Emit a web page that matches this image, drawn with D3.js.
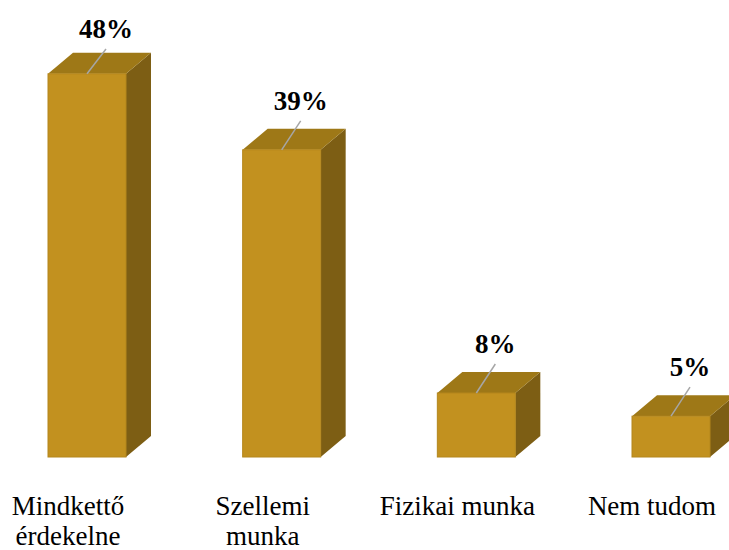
<!DOCTYPE html>
<html>
<head>
<meta charset="utf-8">
<script src="https://cdn.jsdelivr.net/npm/d3@7"></script>
</head>
<body style="margin:0">
<div id="chart"></div>
<script>
// values
var categories = ['Mindkettő érdekelne', 'Szellemi munka', 'Fizikai munka', 'Nem tudom'];
var values = [47.9, 38.4, 8.0, 5.1];
var valueLabels = ['48%', '39%', '8%', '5%'];
// how each category label wraps
var categoryLines = [['Mindkettő', 'érdekelne'], ['Szellemi', 'munka'], ['Fizikai munka'], ['Nem tudom']];

var width = 729, height = 550;
var baseY = 457;
var barW = 78, depthX = 25, depthY = 21;
var fontFam = '"Liberation Serif", monospace';

var svg = d3.select('#chart').append('svg')
  .attr('width', width)
  .attr('height', height)
  .attr('font-family', 'Liberation Serif')
  .style('font-family', 'Liberation Serif');

var x = d3.scalePoint()
  .domain(categories)
  .range([68, 652]);

var y = d3.scaleLinear()
  .domain([0, 48])
  .range([baseY, 73]);

// text layer first, bar layer inserted underneath
var barLayer = svg.append('g');
var textLayer = svg.append('g');

// bars sit a little right of the label centre (3D offset)
function left(d) { return x(d) - 20; }
function labelY(i) { return Math.max(y(values[i]) - 40, 38); }
function labelX(d) { return left(d) + 58; }

// category labels, one text per line
categories.forEach(function (c, i) {
  categoryLines[i].forEach(function (s, j) {
    textLayer.append('text')
      .attr('x', x(c))
      .attr('y', 515 + j * 30)
      .attr('text-anchor', 'middle')
      .style('font-family', fontFam)
      .attr('font-size', 27)
      .attr('fill', '#000')
      .text(s);
  });
});

textLayer.selectAll('text.val')
  .data(categories)
  .enter()
  .append('text')
  .attr('class', 'val')
  .attr('x', function (d) { return labelX(d); })
  .attr('y', function (d, i) { return labelY(i); })
  .attr('text-anchor', 'middle')
  .style('font-family', fontFam)
  .style('font-weight', 'bold')
  .attr('font-size', 27)
  .attr('fill', '#000')
  .text(function (d, i) { return valueLabels[i]; });

// touch the font so it is resolved before the bars go in
getComputedStyle(textLayer.select('text').node()).fontFamily;
document.fonts.check('27px "Liberation Serif"');

var bars = barLayer.selectAll('g.bar')
  .data(categories)
  .enter()
  .append('g')
  .attr('class', 'bar');

// side face
bars.append('path')
  .attr('fill', '#7d5e14')
  .attr('d', function (d, i) {
    var x0 = left(d) + barW, t = y(values[i]);
    return 'M' + x0 + ',' + t + 'L' + (x0 + depthX) + ',' + (t - depthY) +
      'L' + (x0 + depthX) + ',' + (baseY - depthY) + 'L' + x0 + ',' + baseY + 'Z';
  });

// top face
bars.append('path')
  .attr('fill', '#9e7817')
  .attr('d', function (d, i) {
    var x0 = left(d), t = y(values[i]);
    return 'M' + x0 + ',' + t + 'L' + (x0 + depthX) + ',' + (t - depthY) +
      'L' + (x0 + barW + depthX) + ',' + (t - depthY) + 'L' + (x0 + barW) + ',' + t + 'Z';
  });

// front face
bars.append('rect')
  .attr('x', function (d) { return left(d); })
  .attr('y', function (d, i) { return y(values[i]); })
  .attr('width', barW)
  .attr('height', function (d, i) { return baseY - y(values[i]); })
  .attr('fill', '#c2911f')
  .attr('stroke', '#b4861c')
  .attr('stroke-width', 1);

// leader lines
bars.append('line')
  .attr('x1', function (d) { return left(d) + barW / 2; })
  .attr('y1', function (d, i) { return y(values[i]); })
  .attr('x2', function (d) { return labelX(d); })
  .attr('y2', function (d, i) { return labelY(i) + 11; })
  .attr('stroke', '#a6a6a6')
  .attr('stroke-width', 1.5);
</script>
</body>
</html>
